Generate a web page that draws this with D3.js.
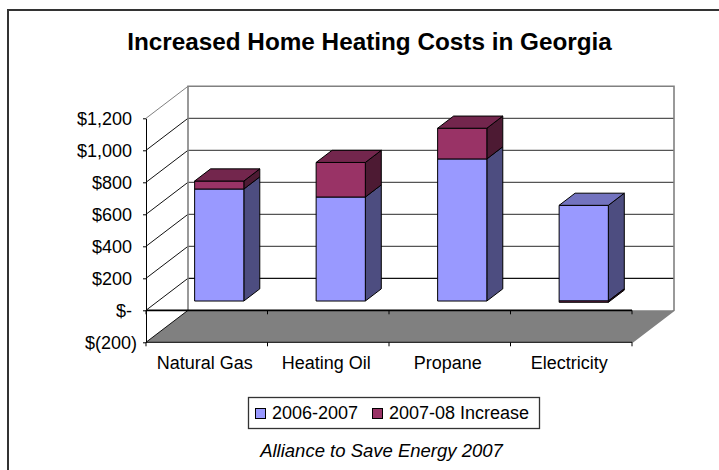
<!DOCTYPE html>
<html>
<head>
<meta charset="utf-8">
<script src="https://cdn.jsdelivr.net/npm/d3@7"></script>
<style>
html, body { margin: 0; padding: 0; background: #fff; }
svg { display: block; }
text { font-family: "Liberation Sans", Arial, sans-serif; fill: #000; }
</style>
</head>
<body>
<svg id="chart" width="719" height="470"></svg>
<script>
var categories = ["Natural Gas", "Heating Oil", "Propane", "Electricity"]
var seriesNames = ["2006-2007", "2007-08 Increase"]
var base = [700, 650, 888, 598]
var increase = [50, 216, 192, -8]
var yTicks = [-200, 0, 200, 400, 600, 800, 1000, 1200]

var frontColors = ["#9999ff", "#993366"]
var sideColors = ["#4d4d80", "#4d1a33"]
var topColors = ["#7373bf", "#73264d"]

var svg = d3.select("#chart")

var scaleX = d3.scaleBand().domain(categories).range([146, 632]).paddingInner(0).paddingOuter(0)
var scaleY = d3.scaleLinear().domain([-200, 1200]).range([342.3, 118.3])
// depth of the 3d box, 0 is the front edge and 1 the back wall
var depthX = d3.scaleLinear().domain([0, 1]).range([0, 42])
var depthY = d3.scaleLinear().domain([0, 1]).range([0, -32])
var barFront = 0.29
var barBack = 0.67
var barWidth = scaleX.bandwidth() * 0.405

var line = d3.line()
function pt(xv, v, depth) {
    return [xv + depthX(depth), scaleY(v) + depthY(depth)]
}

// outer frame, only top and left are inside the picture
svg.append("path")
    .attr("d", line([[8, 470], [8, 10], [719, 10]]))
    .attr("fill", "none").attr("stroke", "#333").attr("stroke-width", 2)

svg.append("text")
    .attr("x", 369.5).attr("y", 50)
    .attr("text-anchor", "middle")
    .style("font-size", "24.3px").style("font-weight", "bold")
    .text("Increased Home Heating Costs in Georgia")

var x0 = scaleX.range()[0]
var x1 = scaleX.range()[1]

// floor
svg.append("path")
    .attr("d", line([pt(x0, -200, 0), pt(x0, -200, 1), pt(x1, -200, 1), pt(x1, -200, 0)]) + "Z")
    .attr("fill", "#808080")

// back wall gridlines
svg.selectAll(".grid").data(yTicks.slice(1, -1)).enter().append("line")
    .attr("class", "grid")
    .attr("x1", pt(x0, 0, 1)[0]).attr("x2", pt(x1, 0, 1)[0])
    .attr("y1", function(d) { return pt(x0, d, 1)[1] })
    .attr("y2", function(d) { return pt(x0, d, 1)[1] })
    .attr("stroke", function(d) { return d == 0 ? "#111" : "#555" })
    .attr("stroke-width", 1.3)

// left wall diagonals
svg.selectAll(".diag").data(yTicks).enter().append("line")
    .attr("class", "diag")
    .attr("x1", x0).attr("x2", pt(x0, 0, 1)[0])
    .attr("y1", function(d) { return scaleY(d) })
    .attr("y2", function(d) { return pt(x0, d, 1)[1] })
    .attr("stroke", function(d) { return d == 1200 ? "#808080" : "#111" })

// wall outline
svg.append("path")
    .attr("d", line([pt(x0, -200, 1), pt(x0, 1200, 1), pt(x1, 1200, 1), pt(x1, -200, 1), pt(x1, -200, 0)]))
    .attr("fill", "none").attr("stroke", "#808080").attr("stroke-width", 1.6)

// stacked bars, electricity increase is below zero
var rows = categories.map(function(c, i) {
    return { category: c, a: base[i], b: increase[i] }
})
var stacked = d3.stack().keys(["a", "b"]).offset(d3.stackOffsetDiverging)(rows)

categories.forEach(function(c, i) {
    var left = scaleX(c) + scaleX.bandwidth() / 2 - barWidth / 2 + 0.3
    var right = left + barWidth
    var g = svg.append("g").attr("class", "bar")
    stacked.forEach(function(s, k) {
        var lo = s[i][0]
        var hi = s[i][1]
        var isTop = hi == d3.max(stacked, function(t) { return t[i][1] })
        var faces = [
            { c: sideColors[k], p: [pt(right, lo, barFront), pt(right, lo, barBack), pt(right, hi, barBack), pt(right, hi, barFront)] },
            { c: frontColors[k], p: [pt(left, lo, barFront), pt(right, lo, barFront), pt(right, hi, barFront), pt(left, hi, barFront)] }
        ]
        if (isTop) {
            faces.push({ c: topColors[k], p: [pt(left, hi, barFront), pt(right, hi, barFront), pt(right, hi, barBack), pt(left, hi, barBack)] })
        }
        g.selectAll(".f" + k).data(faces).enter().append("path")
            .attr("class", "f" + k)
            .attr("d", function(d) { return line(d.p) + "Z" })
            .attr("fill", function(d) { return d.c })
            .attr("stroke", "#000").attr("stroke-width", 1).attr("stroke-linejoin", "round")
    })
})

// value axis on the front left
var axisY = d3.axisLeft(scaleY).tickValues(yTicks).tickSize(3).tickSizeOuter(0).tickPadding(11)
    .tickFormat(function(d) {
        if (d == 0) return "$-"
        if (d < 0) return "$(" + Math.abs(d) + ")"
        return "$" + d3.format(",")(d)
    })
var gy = svg.append("g").attr("transform", "translate(" + x0 + ",0)").call(axisY)
gy.select(".domain").attr("stroke", "#000")
gy.selectAll("text").style("font-size", "18px").attr("fill", "#000")
    .attr("dx", function(d) { return d < 0 ? 5 : 0 })

// category axis, drawn at zero and on the floor edge
var boundaries = [x0].concat(categories.map(function(c) { return scaleX(c) + scaleX.bandwidth() }))
;[0, -200].forEach(function(v) {
    svg.append("line")
        .attr("x1", x0).attr("x2", x1)
        .attr("y1", scaleY(v)).attr("y2", scaleY(v))
        .attr("stroke", "#000").attr("stroke-width", v == 0 ? 1.8 : 1)
    svg.selectAll(".tick" + Math.abs(v)).data(boundaries).enter().append("line")
        .attr("class", "tick" + Math.abs(v))
        .attr("x1", function(d) { return d }).attr("x2", function(d) { return d })
        .attr("y1", scaleY(v)).attr("y2", scaleY(v) + 4)
        .attr("stroke", "#000")
})

svg.selectAll(".cat").data(categories).enter().append("text")
    .attr("class", "cat")
    .attr("x", function(d) { return scaleX(d) + scaleX.bandwidth() / 2 - 2 })
    .attr("y", 369)
    .attr("text-anchor", "middle")
    .style("font-size", "18px")
    .text(function(d) { return d })

// legend
svg.append("rect")
    .attr("x", 248.5).attr("y", 397.5).attr("width", 291).attr("height", 31)
    .attr("fill", "#fff").attr("stroke", "#333").attr("stroke-width", 1.3)

var legendX = [255, 372]
seriesNames.forEach(function(n, i) {
    svg.append("rect")
        .attr("x", legendX[i] + 0.5).attr("y", 408.5).attr("width", 10).attr("height", 10)
        .attr("fill", frontColors[i]).attr("stroke", "#000")
    svg.append("text")
        .attr("x", legendX[i] + (i == 0 ? 17 : 17)).attr("y", 419)
        .style("font-size", "18px")
        .text(n)
})

svg.append("text")
    .attr("x", 381.5).attr("y", 456.5)
    .attr("text-anchor", "middle")
    .style("font-size", "18.5px").style("font-style", "italic")
    .text("Alliance to Save Energy 2007")
</script>
</body>
</html>
